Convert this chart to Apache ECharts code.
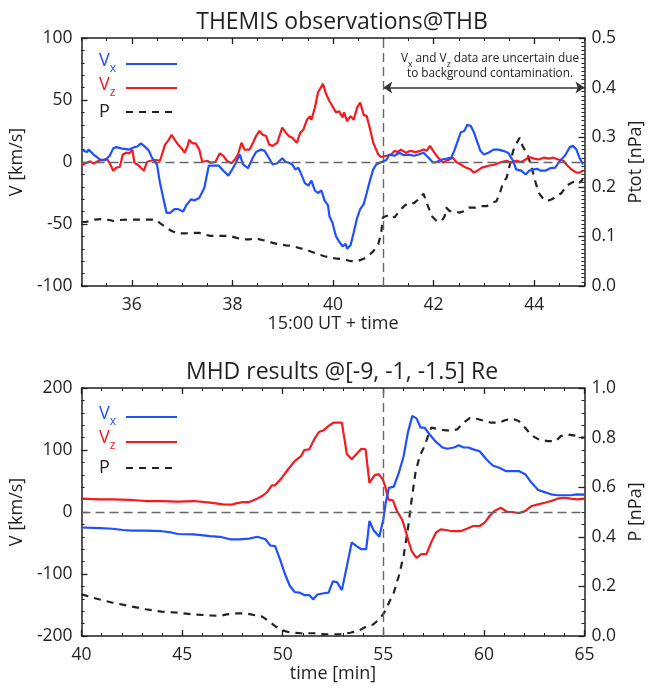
<!DOCTYPE html>
<html>
<head>
<meta charset="utf-8">
<script src="https://cdn.jsdelivr.net/npm/echarts@6/dist/echarts.min.js"></script>
<style>html,body{margin:0;padding:0;background:#fff}#chart{width:653px;height:689px}</style>
</head>
<body>
<div id="chart"></div>
<script>
// ---------------- DATA ----------------
// THEMIS observations @ THB  (x: minutes after 15:00 UT)
const obsVxTime = [35.00,35.11,35.14,35.24,35.37,35.47,35.56,35.63,35.69,35.79,35.95,36.05,36.11,36.18,36.27,36.34,36.40,36.50,36.56,36.63,36.69,36.76,36.85,36.92,37.02,37.08,37.18,37.24,37.34,37.44,37.53,37.63,37.73,37.82,37.92,37.98,38.05,38.15,38.21,38.31,38.40,38.47,38.57,38.64,38.70,38.80,38.89,38.99,39.06,39.12,39.19,39.25,39.31,39.38,39.44,39.51,39.57,39.64,39.70,39.77,39.83,39.90,39.93,39.99,40.02,40.06,40.12,40.19,40.25,40.28,40.35,40.41,40.48,40.54,40.61,40.67,40.74,40.80,40.86,40.96,41.06,41.12,41.22,41.32,41.41,41.51,41.61,41.70,41.80,41.90,41.99,42.06,42.16,42.25,42.35,42.41,42.48,42.54,42.61,42.67,42.74,42.80,42.87,42.93,43.00,43.09,43.19,43.29,43.38,43.48,43.58,43.64,43.74,43.83,43.90,44.00,44.06,44.13,44.22,44.32,44.42,44.51,44.61,44.71,44.77,44.84,44.90,44.97];
const obsVx = [9.7,8,10,6,2,1.5,5,11,12,11,10,12,12.5,15,12,9,3.5,-2,-17,-30,-41,-41,-38,-38,-40,-35,-30,-31,-29,-21,-3,-3,-3,-7,-11,-7,-2,6,-2,-5,3,8,10,9,5,-2,-1,3,0,-0.5,-2,-6,-4.5,-11,-17,-19,-15,-23,-25,-23,-31,-35,-44,-49,-54,-60,-64,-68,-66,-70,-67,-57,-45,-38,-34,-25,-14,-6,-2,0,1.6,6,5,7.5,5.5,6,5,6,7.5,3.5,-0.5,0,2,2.5,3.5,9,17,24,25,30,29,24,16,9,6,7.5,10,10,9,7.5,1,-6,-7,-10,-7,-6,-5.5,-7,-7,-5,-4.5,1,5,12,13,10,3.5,-2];

const obsVzTime = [35.00,35.08,35.17,35.24,35.34,35.43,35.50,35.56,35.63,35.69,35.76,35.82,35.89,35.95,36.01,36.05,36.14,36.24,36.30,36.37,36.47,36.56,36.66,36.72,36.79,36.85,36.92,36.98,37.05,37.11,37.14,37.21,37.27,37.34,37.40,37.50,37.56,37.66,37.75,37.82,37.89,37.98,38.05,38.11,38.18,38.24,38.34,38.41,38.47,38.54,38.60,38.67,38.73,38.80,38.89,38.99,39.06,39.12,39.19,39.28,39.35,39.41,39.48,39.54,39.57,39.64,39.70,39.73,39.80,39.86,39.93,39.99,40.06,40.12,40.19,40.22,40.28,40.35,40.41,40.48,40.54,40.61,40.67,40.74,40.80,40.90,40.96,41.06,41.16,41.22,41.28,41.35,41.45,41.54,41.64,41.74,41.80,41.86,41.93,41.99,42.09,42.19,42.28,42.38,42.45,42.54,42.64,42.74,42.80,42.87,42.96,43.09,43.22,43.35,43.45,43.54,43.64,43.74,43.83,43.90,44.00,44.09,44.19,44.29,44.38,44.48,44.58,44.64,44.74,44.84,44.90,44.97];
const obsVz = [-2.7,-1,0.5,-1.3,1,1.6,2.7,-1,-7,-4.5,-4,6,7.5,7,10,-0.5,-3,-7,0,1,1.6,1,14,17,22,18,14,11.5,7.5,13,18,15,15,10,0,1,-0.5,0,7,5,1,-1,2,6,15.5,10,10,15.5,21,25,22,21,14,13,15.5,27.7,23.7,21,19.6,15.5,23.7,26,34,37,34,44,56,55,63,55,49,45,40,41,36,40,33,37,34,44,48,38,37,26,15.5,6,4,5,6,9,8,10,7.5,9,8,9,10,9,13,9,3.5,-0.5,1.5,3.5,0,-2,-4.5,-6,-8.6,-7,-4.5,-3,-2,0,1,-0.5,1,0,2,4,2.7,2,3.5,2.7,3.5,2,1,-2,-6,-8.6,-8.6,-7];

const obsPTime = [35.00,35.08,35.17,35.27,35.37,35.56,35.63,35.76,35.95,36.14,36.34,36.47,36.56,36.69,36.79,36.92,37.05,37.21,37.34,37.44,37.56,37.69,37.82,37.95,38.08,38.21,38.34,38.47,38.54,38.67,38.80,38.93,39.06,39.19,39.31,39.44,39.57,39.70,39.83,39.96,40.09,40.22,40.35,40.48,40.61,40.70,40.80,40.90,40.96,40.99,41.06,41.16,41.22,41.32,41.41,41.51,41.61,41.70,41.80,41.86,41.90,41.96,42.06,42.16,42.22,42.25,42.32,42.41,42.51,42.61,42.70,42.83,42.93,43.06,43.16,43.25,43.32,43.38,43.45,43.51,43.58,43.64,43.71,43.77,43.87,43.96,44.03,44.09,44.16,44.25,44.35,44.45,44.55,44.64,44.74,44.84,44.90,44.97];
const obsP = [0.129,0.129,0.131,0.134,0.135,0.133,0.131,0.133,0.134,0.134,0.134,0.134,0.127,0.117,0.111,0.106,0.106,0.107,0.107,0.104,0.101,0.101,0.101,0.101,0.097,0.094,0.094,0.096,0.094,0.091,0.087,0.084,0.082,0.081,0.077,0.074,0.069,0.064,0.060,0.057,0.055,0.054,0.050,0.050,0.055,0.060,0.070,0.084,0.108,0.138,0.141,0.144,0.138,0.151,0.161,0.168,0.167,0.175,0.186,0.168,0.158,0.141,0.131,0.131,0.141,0.158,0.151,0.151,0.148,0.151,0.158,0.158,0.161,0.161,0.168,0.171,0.188,0.208,0.218,0.242,0.272,0.286,0.299,0.282,0.265,0.235,0.208,0.188,0.178,0.171,0.175,0.181,0.188,0.202,0.208,0.212,0.208,0.215];

// MHD results @[-9, -1, -1.5] Re  (x: time [min])
const mhdVxTime = [40.00,40.92,41.56,42.05,42.53,43.18,43.98,44.46,44.79,45.59,46.40,46.88,47.37,47.85,48.33,48.74,49.14,49.38,49.62,49.86,50.11,50.35,50.59,50.83,51.07,51.32,51.52,51.72,52.04,52.28,52.49,52.70,52.94,53.19,53.43,53.67,53.91,54.15,54.31,54.51,54.80,55.00,55.12,55.28,55.52,55.77,56.01,56.22,56.44,56.65,56.86,57.05,57.30,57.62,57.94,58.18,58.51,58.75,58.99,59.23,59.47,59.79,60.12,60.44,60.76,61.08,61.41,61.73,62.05,62.37,62.70,63.02,63.34,63.66,63.99,64.31,64.63,65.00];
const mhdVx = [-25,-26,-27,-29,-30,-30,-31,-33,-35.5,-36,-39,-40,-44,-44,-43,-40,-44,-54,-55,-76,-100,-119,-129,-130,-134,-134,-141,-133,-131,-130,-112,-113,-126,-87,-49,-55,-60,-60,-14.5,-29,-40,-12,15,39,41,63,90,128,155,151,136,136,125,113,104,102,104,107.5,104,104,101,98,85,75,71.5,66,66,66,61,47,35.5,32,28.5,27,27,27,28.5,28];

const mhdVzTime = [40.00,40.92,41.56,42.37,43.18,43.98,44.79,45.59,46.40,47.04,47.45,47.69,48.01,48.33,48.66,48.98,49.22,49.46,49.62,49.95,50.27,50.59,50.91,51.07,51.32,51.56,51.80,52.04,52.28,52.52,52.94,53.19,53.43,53.91,54.12,54.31,54.56,54.77,54.96,55.09,55.25,55.47,55.68,55.93,56.09,56.25,56.41,56.65,56.89,57.14,57.38,57.62,57.86,58.10,58.42,58.83,59.15,59.47,59.79,60.04,60.28,60.52,60.84,61.16,61.41,61.73,62.05,62.37,62.70,63.02,63.34,63.66,63.99,64.31,64.63,65.00];
const mhdVz = [21.5,20.4,20.4,19.4,17.7,17.7,16.7,17.7,15,12.4,11.8,14,16,16,20.4,25.8,32,43,43,55,69,82,90,100,101,117,129,132,139,144,144,93,85,102,101,47,59,61,53,42,20,19,1.6,-12,-28,-47,-63,-74,-68,-68,-49,-33,-28,-29,-31,-31,-27,-22.6,-22.6,-17,-6.5,1.6,7,0,0,-2,1.6,9.7,12.4,15,17.7,21.5,23,21.5,20.4,21.5];

const mhdPTime = [40.00,40.76,41.56,42.37,43.18,43.98,44.79,45.59,46.40,46.88,47.21,47.69,48.17,48.66,48.98,49.30,49.62,49.95,50.27,50.59,50.91,51.23,51.56,51.88,52.20,52.86,53.35,53.75,54.15,54.48,54.80,55.04,55.28,55.52,55.77,56.01,56.22,56.41,56.60,56.81,57.05,57.22,57.38,57.62,57.94,58.34,58.67,58.99,59.31,59.63,60.04,60.36,60.76,61.08,61.41,61.73,62.05,62.37,62.78,63.18,63.58,63.82,64.15,64.47,64.87,65.00];
const mhdP = [0.168,0.150,0.134,0.121,0.108,0.098,0.094,0.087,0.083,0.081,0.087,0.091,0.091,0.083,0.078,0.060,0.040,0.024,0.016,0.013,0.011,0.011,0.011,0.008,0.007,0.007,0.013,0.020,0.038,0.046,0.067,0.094,0.134,0.175,0.242,0.323,0.430,0.551,0.659,0.726,0.766,0.806,0.840,0.836,0.831,0.827,0.833,0.860,0.880,0.876,0.867,0.860,0.860,0.871,0.876,0.867,0.840,0.809,0.790,0.786,0.786,0.806,0.813,0.809,0.800,0.800];

// axis ticks / reference markers
const obsXTicks = [36, 38, 40, 42, 44];
const obsMarkerTime = 41;
const mhdMarkerTime = 55;
const uncertainStart = 41, uncertainEnd = 45, arrowLevel = 0.4;

// ---------------- STYLE ----------------
const FONT = "'Open Sans', 'Noto Sans', sans-serif";
const AX = '#231f20';
const BLUE = '#1f4fff';
const RED = '#f41a1f';
const BLK = '#222222';
const zip = (t, v) => t.map((x, i) => [x, v[i]]);

const tickStyle = {color: AX, width: 1.3};
const labelBase = {color: AX, fontSize: 17.5, fontFamily: FONT};
const nameStyle = {color: AX, fontSize: 18, fontFamily: FONT};

function yAxis(grid, pos, min, max, interval, minorSplit, name, nameGap, fmt) {
  return {
    type: 'value', gridIndex: grid, position: pos, min, max, interval,
    axisLine: {show: true, onZero: false, lineStyle: {color: AX, width: 1.5}},
    axisTick: {show: true, inside: true, length: 6, lineStyle: tickStyle},
    minorTick: {show: true, splitNumber: minorSplit, length: 3, lineStyle: {color: AX, width: 1}},
    splitLine: {show: false}, minorSplitLine: {show: false},
    axisLabel: Object.assign({margin: pos === 'left' ? 9 : 7, formatter: fmt}, labelBase),
    name, nameLocation: 'middle', nameGap, nameTextStyle: nameStyle
  };
}

const xAxes = [
  // top panel: main bottom axis (labels + major ticks)
  {type: 'value', gridIndex: 0, position: 'bottom', min: 35, max: 45,
   axisLine: {show: true, onZero: false, lineStyle: {color: AX, width: 1.5}},
   axisTick: {show: true, inside: true, length: 6, customValues: obsXTicks, lineStyle: tickStyle},
   axisLabel: Object.assign({margin: 10, customValues: obsXTicks}, labelBase),
   splitLine: {show: false},
   name: '15:00 UT + time', nameLocation: 'middle', nameGap: 29, nameTextStyle: nameStyle},
  // top panel: minor ticks bottom
  {type: 'value', gridIndex: 0, position: 'bottom', min: 35, max: 45, interval: 0.5,
   axisLine: {show: false, onZero: false}, axisTick: {show: true, inside: true, length: 3, lineStyle: {color: AX, width: 1}},
   axisLabel: {show: false}, splitLine: {show: false}},
  // top panel: mirror at top
  {type: 'value', gridIndex: 0, position: 'top', min: 35, max: 45,
   axisLine: {show: true, onZero: false, lineStyle: {color: AX, width: 1.5}},
   axisTick: {show: true, inside: true, length: 6, customValues: obsXTicks, lineStyle: tickStyle},
   axisLabel: {show: false}, splitLine: {show: false}},
  {type: 'value', gridIndex: 0, position: 'top', min: 35, max: 45, interval: 0.5,
   axisLine: {show: false, onZero: false}, axisTick: {show: true, inside: true, length: 3, lineStyle: {color: AX, width: 1}},
   axisLabel: {show: false}, splitLine: {show: false}},
  // bottom panel
  {type: 'value', gridIndex: 1, position: 'bottom', min: 40, max: 65, interval: 5,
   axisLine: {show: true, onZero: false, lineStyle: {color: AX, width: 1.5}},
   axisTick: {show: true, inside: true, length: 6, lineStyle: tickStyle},
   minorTick: {show: true, splitNumber: 5, length: 3, lineStyle: {color: AX, width: 1}},
   axisLabel: Object.assign({margin: 10}, labelBase),
   splitLine: {show: false}, minorSplitLine: {show: false},
   name: 'time [min]', nameLocation: 'middle', nameGap: 29, nameTextStyle: nameStyle},
  {type: 'value', gridIndex: 1, position: 'top', min: 40, max: 65, interval: 5,
   axisLine: {show: true, onZero: false, lineStyle: {color: AX, width: 1.5}},
   axisTick: {show: true, inside: true, length: 6, lineStyle: tickStyle},
   minorTick: {show: true, splitNumber: 5, length: 3, lineStyle: {color: AX, width: 1}},
   axisLabel: {show: false}, splitLine: {show: false}, minorSplitLine: {show: false}}
];

const fmt1 = v => v.toFixed(1);
const yAxes = [
  yAxis(0, 'left', -100, 100, 50, 5, 'V [km/s]', 47, null),
  yAxis(0, 'right', 0, 0.5, 0.1, 12, 'Ptot [nPa]', 41, fmt1),
  yAxis(1, 'left', -200, 200, 100, 5, 'V [km/s]', 47, null),
  yAxis(1, 'right', 0, 1, 0.2, 4, 'P [nPa]', 41, fmt1)
];

const refLine = {color: '#666', type: [9, 5], width: 1.4};
function line(name, xi, yi, data, color, dashed, extra) {
  return Object.assign({
    type: 'line', name, xAxisIndex: xi, yAxisIndex: yi, data,
    symbol: 'none', showSymbol: false, animation: false, clip: true,
    lineStyle: {color, width: 2.2, type: dashed ? [7, 6] : 'solid'},
    itemStyle: {color}, z: 3
  }, extra || {});
}

const series = [
  line('P', 0, 1, zip(obsPTime, obsP), BLK, true, {
    markLine: {silent: true, animation: false, symbol: ['arrow', 'arrow'], symbolSize: 9,
      label: {show: false}, lineStyle: {color: '#333', type: 'solid', width: 1.5},
      data: [[{coord: [uncertainStart, arrowLevel]}, {coord: [uncertainEnd, arrowLevel]}]]}
  }),
  line('Vz', 0, 0, zip(obsVzTime, obsVz), RED, false),
  line('Vx', 0, 0, zip(obsVxTime, obsVx), BLUE, false, {
    markLine: {silent: true, animation: false, symbol: 'none', label: {show: false},
      lineStyle: refLine, data: [{xAxis: obsMarkerTime}, {yAxis: 0}]}
  }),
  line('P', 4, 3, zip(mhdPTime, mhdP), BLK, true),
  line('Vz', 4, 2, zip(mhdVzTime, mhdVz), RED, false),
  line('Vx', 4, 2, zip(mhdVxTime, mhdVx), BLUE, false, {
    markLine: {silent: true, animation: false, symbol: 'none', label: {show: false},
      lineStyle: refLine, data: [{xAxis: mhdMarkerTime}, {yAxis: 0}]}
  })
];

// legend (drawn as graphic so that text sits left of the line sample)
function legendRich(color) {
  return {
    m: {fontSize: 18, lineHeight: 28, fill: color, fontFamily: FONT},
    s: {fontSize: 12, lineHeight: 10, verticalAlign: 'bottom', fill: color, fontFamily: FONT}
  };
}
function legendGroup(rows) {
  const out = [];
  rows.forEach(r => {
    out.push({type: 'text', x: 99, y: r.ty, silent: true,
      style: {text: r.label, rich: legendRich(r.color), align: 'left', verticalAlign: 'middle'}});
    out.push({type: 'line', silent: true, shape: {x1: 126, y1: r.ly, x2: 177, y2: r.ly},
      style: {stroke: r.lineColor, lineWidth: 2, lineDash: r.dash ? [7, 6] : null}});
  });
  return out;
}
const legendTop = legendGroup([
  {label: '{m|V}{s|x}', color: BLUE, lineColor: BLUE, ty: 61, ly: 64},
  {label: '{m|V}{s|z}', color: RED, lineColor: RED, ty: 85, ly: 88},
  {label: '{m|P}', color: BLK, lineColor: BLK, ty: 112, ly: 112, dash: true}
]);
const legendBottom = legendGroup([
  {label: '{m|V}{s|x}', color: BLUE, lineColor: BLUE, ty: 414, ly: 417},
  {label: '{m|V}{s|z}', color: RED, lineColor: RED, ty: 438, ly: 442},
  {label: '{m|P}', color: BLK, lineColor: BLK, ty: 468, ly: 468, dash: true}
]);

const note = [
  {type: 'text', x: 490, y: 59, silent: true,
   style: {text: '{m|V}{s|x}{m| and V}{s|z}{m| data are uncertain due}',
     rich: {m: {fontSize: 11.8, lineHeight: 20, fill: BLK, fontFamily: FONT},
            s: {fontSize: 8.5, lineHeight: 8, verticalAlign: 'bottom', fill: BLK, fontFamily: FONT}},
     align: 'center', verticalAlign: 'middle'}},
  {type: 'text', x: 490, y: 74, silent: true,
   style: {text: 'to background contamination.', fontSize: 11.8, fontFamily: FONT, fill: BLK,
     align: 'center', verticalAlign: 'middle'}}
];

const chart = echarts.init(document.getElementById('chart'), null, {renderer: 'canvas'});
chart.setOption({
  backgroundColor: '#ffffff',
  animation: false,
  title: [
    {text: 'THEMIS observations@THB', left: 337, top: 6, textAlign: 'center',
     textStyle: {fontSize: 23, fontWeight: 'normal', color: AX, fontFamily: FONT}},
    {text: 'MHD results @[-9, -1, -1.5] Re', left: 337, top: 356, textAlign: 'center',
     textStyle: {fontSize: 23, fontWeight: 'normal', color: AX, fontFamily: FONT}}
  ],
  grid: [
    {left: 79, top: 38, width: 516, height: 248, containLabel: false},
    {left: 79, top: 388, width: 516, height: 248, containLabel: false}
  ],
  xAxis: xAxes,
  yAxis: yAxes,
  series,
  graphic: legendTop.concat(legendBottom, note)
});
</script>
</body>
</html>
